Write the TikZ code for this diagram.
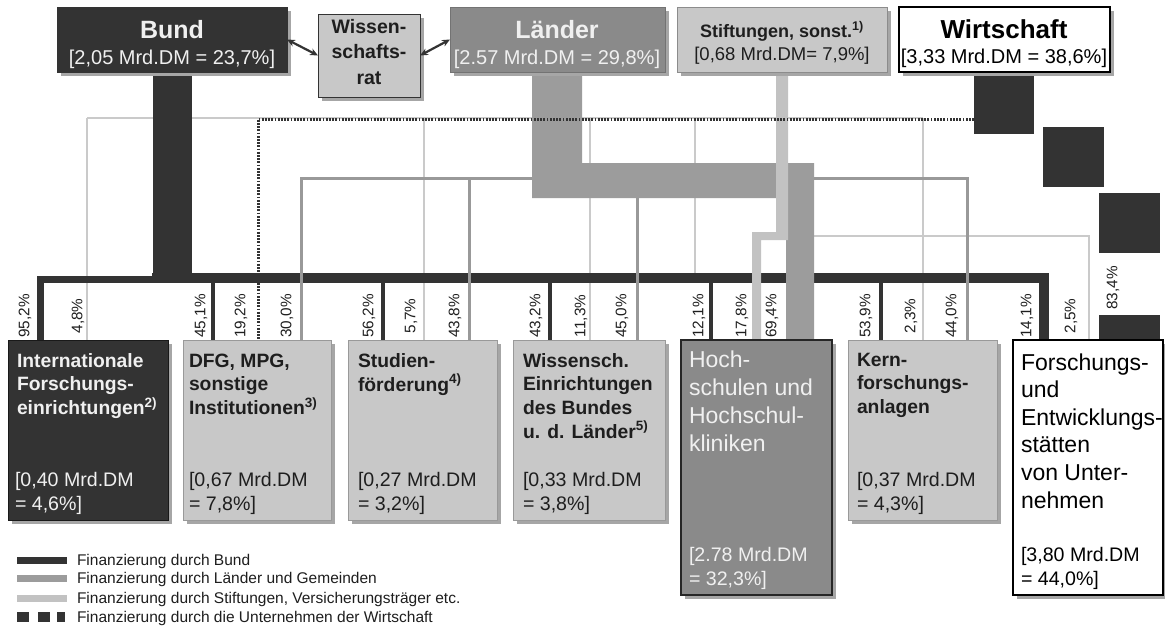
\documentclass[tikz,border=0pt]{standalone}
\usepackage{fontspec}
\setmainfont{Liberation Sans}
\usetikzlibrary{arrows.meta,calc}
\definecolor{dk}{HTML}{333333}
\definecolor{mdbox}{HTML}{8A8A8A}
\definecolor{mdband}{HTML}{9C9C9C}
\definecolor{mdline}{HTML}{999999}
\definecolor{ltbox}{HTML}{C8C8C8}
\definecolor{ltband}{HTML}{C2C2C2}
\definecolor{ltline}{HTML}{CACACA}
\definecolor{shad}{HTML}{A6A6A6}
\definecolor{txtd}{HTML}{1E1E1E}
\definecolor{txtl}{HTML}{F0F0F0}
\newcommand{\mlines}[1]{\begin{tabular}[t]{@{}l@{}}#1\end{tabular}}
\newcommand{\mlinesc}[1]{\begin{tabular}[t]{@{}c@{}}#1\end{tabular}}
\newcommand{\fsz}[2]{\fontsize{#1}{#2}\selectfont}
\tikzset{
  box/.style={rectangle, inner sep=0pt, outer sep=0pt, anchor=north west},
  shadowed/.style={preaction={fill=shad, transform canvas={xshift=3.5pt, yshift=-3.5pt}}},
  txt/.style={inner sep=0pt, outer sep=0pt},
  toptitle/.style={txt, anchor=base, font=\fsz{25}{28}\bfseries},
  topsub/.style={txt, anchor=base, font=\fsz{20}{24}},
  btitle/.style={txt, anchor=base west, font=\fsz{19.3}{23.5}\bfseries, text=txtd},
  bsub/.style={txt, anchor=base west, font=\fsz{19.6}{24}, text=txtd},
  bigtitle/.style={txt, anchor=base west, font=\fsz{23}{28}},
  pct/.style={txt, rotate=90, font=\fsz{15.3}{17}, text=txtd},
  sthin/.style={ltline, line width=2pt},
  mthin/.style={mdline, line width=3pt},
  bthin/.style={dk, line width=4pt},
  dotl/.style={dk, line width=3pt, dash pattern=on 1.8pt off 1.4pt},
  sq/.style={box, fill=dk, draw=none},
  arr/.style={dk, line width=2.2pt, {Stealth[length=8pt,width=7pt]}-{Stealth[length=8pt,width=7pt]}},
  legtxt/.style={txt, anchor=base west, font=\fsz{15.5}{18}, text=txtd}
}
\begin{document}
\begin{tikzpicture}[x=1pt,y=-1pt]
\useasboundingbox (0,0) rectangle (1165,627);
\fill[white] (0,0) rectangle (1165,627);

% ---------- boxes (nodes defined first for references; drawn later on top) ----------
\path
  (57,7)    node[box, minimum width=230pt, minimum height=65pt] (bund) {}
  (318,14)  node[box, minimum width=102pt, minimum height=83pt] (wrat) {}
  (450,7)   node[box, minimum width=215pt, minimum height=65pt] (laender) {}
  (677,7)   node[box, minimum width=210pt, minimum height=65pt] (stift) {}
  (899,7)   node[box, minimum width=211pt, minimum height=65pt] (wirt) {}
  (8,340)   node[box, minimum width=160pt, minimum height=180pt] (intl) {}
  (183,340) node[box, minimum width=148pt, minimum height=180pt] (dfg) {}
  (348,340) node[box, minimum width=149pt, minimum height=180pt] (stud) {}
  (513,340) node[box, minimum width=152pt, minimum height=180pt] (wiss) {}
  (681,340) node[box, minimum width=151pt, minimum height=255pt] (hoch) {}
  (848,340) node[box, minimum width=149pt, minimum height=180pt] (kern) {}
  (1013,340) node[box, minimum width=150pt, minimum height=255pt] (fue) {};

% ---------- Stiftungen thin lines (bottom layer) ----------
\draw[sthin] (87,118) -- (923,118);
\draw[sthin] (87,118) -- (87,118 |- intl.north);
\draw[sthin] (424,118) -- (424,118 |- stud.north);
\draw[sthin] (590,118) -- (590,118 |- wiss.north);
\draw[sthin] (695,118) -- (695,273);
\draw[sthin] (923,118) -- (923,118 |- kern.north);
\draw[sthin] (788,236) -- (1089,236) -- (1089,236 |- fue.north);

% ---------- Bund (black) ----------
\draw[dk, line width=39pt] (bund.south) -- (172,283);
\draw[dk, line width=10pt, line join=miter] (152,278) -| (1044,278 |- fue.north);
\draw[dk, line width=7pt, line join=miter] (153,279.5) -| (40,279.5 |- intl.north);
\foreach \xx/\bb in {213/dfg, 383/stud, 550/wiss, 711/hoch, 881/kern}
  \draw[bthin] (\xx,283) -- (\xx,283 |- \bb.north);

% ---------- Laender (medium) thin lines ----------
\draw[mthin] (532,178) -- (301,178) -- (301,178 |- dfg.north);
\draw[mthin] (469,178) -- (469,178 |- stud.north);
\draw[mthin] (637,198) -- (637,198 |- wiss.north);
\draw[mthin] (814,178) -- (967,178) -- (967,178 |- kern.north);

% ---------- Laender band ----------
\fill[mdband] (532,72) -- (582,72) -- (582,163) -- (814,163) -- (814,340)
  -- (786,340) -- (786,198) -- (532,198) -- cycle;

% ---------- Stiftungen thick ----------
\fill[ltband] (776,72) -- (788,72) -- (788,240) -- (761,240) -- (761,340)
  -- (752,340) -- (752,232) -- (776,232) -- cycle;

% ---------- Wirtschaft (dotted + squares) ----------
\node[sq, minimum width=60pt, minimum height=62pt] (wsq1) at (974,72) {};
\node[sq, minimum width=61pt, minimum height=60pt] (wsq2) at (1043,127) {};
\node[sq, minimum width=61pt, minimum height=60pt] (wsq3) at (1099,193) {};
\node[sq, minimum width=61pt, minimum height=25pt] (wsq4) at (1099,315) {};
\draw[dotl] (wsq1.west |- 0,119) -- (258,119) -- (258,119 |- dfg.north);

% ---------- draw the boxes ----------
\node[box, shadowed, fill=dk, draw=dk, minimum width=230pt, minimum height=65pt] at (57,7) {};
\node[box, shadowed, fill=ltbox, draw=black!80, line width=1pt, minimum width=102pt, minimum height=83pt] at (318,14) {};
\node[box, shadowed, fill=mdbox, draw=black!55, line width=1pt, minimum width=215pt, minimum height=65pt] at (450,7) {};
\node[box, shadowed, fill=ltbox, draw=black!45, line width=1pt, minimum width=210pt, minimum height=65pt] at (677,7) {};
\node[box, shadowed, fill=white, draw=black, line width=1.2pt, minimum width=211pt, minimum height=65pt] at (899,7) {};
\node[box, shadowed, fill=dk, draw=black!90, line width=1pt, minimum width=160pt, minimum height=180pt] at (8,340) {};
\node[box, shadowed, fill=ltbox, draw=black!40, line width=1pt, minimum width=148pt, minimum height=180pt] at (183,340) {};
\node[box, shadowed, fill=ltbox, draw=black!40, line width=1pt, minimum width=149pt, minimum height=180pt] at (348,340) {};
\node[box, shadowed, fill=ltbox, draw=black!40, line width=1pt, minimum width=152pt, minimum height=180pt] at (513,340) {};
\node[box, shadowed, fill=mdbox, draw=black!85, line width=1.3pt, minimum width=151pt, minimum height=255pt] at (681,340) {};
\node[box, shadowed, fill=ltbox, draw=black!40, line width=1pt, minimum width=149pt, minimum height=180pt] at (848,340) {};
\node[box, shadowed, fill=white, draw=black, line width=1.3pt, minimum width=150pt, minimum height=255pt] at (1013,340) {};

% ---------- arrows ----------
\draw[arr] (bund.east) -- (wrat.west);
\draw[arr] (wrat.east) -- (laender.west);

% ---------- top texts ----------
\node[toptitle, text=txtl] (bundT) at (172,38) {Bund};
\node[topsub, text=txtl] (bundS) at (172,64) {[2,05 Mrd.DM = 23,7\%]};
\node[txt, anchor=base, font=\fsz{19.5}{25.5}\bfseries, text=txtd] (wratT) at (369,33) {\mlinesc{Wissen-\\schafts-\\rat}};
\node[toptitle, text=txtl] (laenderT) at (557,38) {Länder};
\node[topsub, text=txtl] (laenderS) at (557,64) {[2.57 Mrd.DM = 29,8\%]};
\node[txt, anchor=base, font=\fsz{18}{22}\bfseries, text=txtd] (stiftT) at (782,37) {Stiftungen, sonst.\textsuperscript{1)}};
\node[txt, anchor=base, font=\fsz{18.5}{22}, text=txtd] (stiftS) at (782,60) {[0,68 Mrd.DM= 7,9\%]};
\node[toptitle, text=black, font=\fsz{26}{28}\bfseries] (wirtT) at (1004,38) {Wirtschaft};
\node[topsub, text=black] (wirtS) at (1004,63) {[3,33 Mrd.DM = 38,6\%]};

% ---------- bottom texts ----------
\node[btitle, text=txtl] (intlT) at (17,367) {\mlines{Internationale\\Forschungs-\\einrichtungen\textsuperscript{2)}}};
\node[bsub, text=txtl] (intlS) at (15,486) {\mlines{[0,40 Mrd.DM\\= 4,6\%]}};
\node[btitle] (dfgT) at (189,367) {\mlines{DFG, MPG,\\sonstige\\Institutionen\textsuperscript{3)}}};
\node[bsub] (dfgS) at (189,486) {\mlines{[0,67 Mrd.DM\\= 7,8\%]}};
\node[btitle] (studT) at (358,367) {\mlines{Studien-\\förderung\textsuperscript{4)}}};
\node[bsub] (studS) at (358,486) {\mlines{[0,27 Mrd.DM\\= 3,2\%]}};
\node[btitle] (wissT) at (523,367) {\mlines{Wissensch.\\Einrichtungen\\des Bundes\\u. d. Länder\textsuperscript{5)}}};
\node[bsub] (wissS) at (523,486) {\mlines{[0,33 Mrd.DM\\= 3,8\%]}};
\node[bigtitle, text=txtl] (hochT) at (689,367) {\mlines{Hoch-\\schulen und\\Hochschul-\\kliniken}};
\node[bsub, text=txtl] (hochS) at (689,561) {\mlines{[2.78 Mrd.DM\\= 32,3\%]}};
\node[btitle] (kernT) at (857,366) {\mlines{Kern-\\forschungs-\\anlagen}};
\node[bsub] (kernS) at (857,486) {\mlines{[0,37 Mrd.DM\\= 4,3\%]}};
\node[bigtitle, text=black, font=\fsz{23}{27.6}] (fueT) at (1021,370) {\mlines{Forschungs-\\und\\Entwicklungs-\\stätten\\von Unter-\\nehmen}};
\node[bsub, text=black] (fueS) at (1021,561) {\mlines{[3,80 Mrd.DM\\= 44,0\%]}};

% ---------- percentages ----------
\foreach \xx/\pv [count=\i] in {25/{95,2}, 78/{4,8}, 201/{45,1}, 241/{19,2}, 287/{30,0}, 369/{56,2}, 411/{5,7}, 455/{43,8},
   536/{43,2}, 581/{11,3}, 622/{45,0}, 699/{12,1}, 742/{17,8}, 772/{69,4}, 866/{53,9}, 911/{2,3}, 952/{44,0}, 1027/{14,1}, 1071/{2,5}}
  \node[pct] (p\i) at (\xx,316) {\pv\%};
\node[pct] (p20) at (1113,288) {83,4\%};

% ---------- legend ----------
\node[box, anchor=west, fill=dk, minimum width=50pt, minimum height=7pt] (lg1) at (17,560.5) {};
\node[box, anchor=west, fill=mdband, minimum width=50pt, minimum height=7pt] (lg2) at (17,578.5) {};
\node[box, anchor=west, fill=ltband, minimum width=50pt, minimum height=7pt] (lg3) at (17,598) {};
\node[box, fill=dk, minimum width=12pt, minimum height=10pt] (lg4a) at (17,612) {};
\node[box, fill=dk, minimum width=12pt, minimum height=10pt] (lg4b) at (38,612) {};
\node[box, fill=dk, minimum width=8pt, minimum height=10pt] (lg4c) at (57,612) {};
\node[legtxt] (lt1) at (77,565) {Finanzierung durch Bund};
\node[legtxt] (lt2) at (77,583) {Finanzierung durch Länder und Gemeinden};
\node[legtxt] (lt3) at (77,603) {Finanzierung durch Stiftungen, Versicherungsträger etc.};
\node[legtxt] (lt4) at (77,622) {Finanzierung durch die Unternehmen der Wirtschaft};
\end{tikzpicture}
\end{document}
